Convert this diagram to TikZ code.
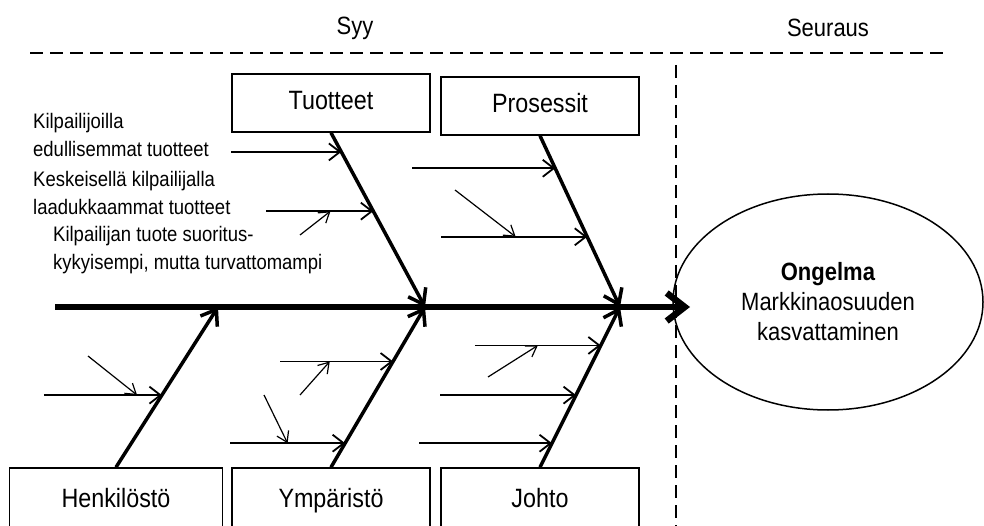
\documentclass[tikz,border=0pt]{standalone}
\usepackage{fontspec}
\setmainfont{Liberation Sans}[FakeStretch=0.88]
\usetikzlibrary{arrows.meta,calc,shapes.geometric}
\tikzset{
  causebox/.style={draw, line width=1.5pt, minimum width=198pt, minimum height=58pt,
    inner sep=0pt, text height=19pt, text depth=5pt, font=\fontsize{26.5}{30}\selectfont},
  effect/.style={ellipse, draw, line width=1.5pt, minimum width=310pt, minimum height=216pt,
    inner sep=0pt, align=center, font=\fontsize{25}{30}\selectfont},
  note/.style={anchor=west, align=left, inner sep=0pt, font=\fontsize{21}{28}\selectfont},
  head/.style={font=\fontsize{25}{28}\selectfont},
  spine/.style={-{Straight Barb[length=18pt,width=28pt]}, line width=6.5pt},
  bone/.style={-{Straight Barb[length=14pt,width=20pt]}, line width=3.5pt},
  twig/.style={-{Straight Barb[length=11pt,width=17pt]}, line width=1.8pt},
  subtwig/.style={-{Straight Barb[length=10pt,width=13pt]}, line width=1.2pt},
  divider/.style={line width=1.8pt, dash pattern=on 13pt off 7pt}
}
\begin{document}
\begin{tikzpicture}[x=1pt,y=-1pt]
  \useasboundingbox (0,0) rectangle (984,526);
  % headings and dividers
  \node[head] (syy) at (355,28) {Syy};
  \node[head] (seuraus) at (828,28) {Seuraus};
  \coordinate (hl) at (30,53);
  \coordinate (hr) at (945,53);
  \coordinate (vt) at (676,65);
  \coordinate (vb) at (676,530);
  \draw[divider] (hl) -- (hr);
  \draw[divider] (vt) -- (vb);
  % effect
  \node[effect] (ongelma) at (828,302) {\textbf{Ongelma}\\Markkinaosuuden\\kasvattaminen};
  % cause boxes
  \node[causebox] (tuotteet) at (331,103) {Tuotteet};
  \node[causebox] (prosessit) at (540,106) {Prosessit};
  \node[causebox, minimum width=213pt, minimum height=64pt] (henkilosto) at (116,500) {Henkilöstö};
  \node[causebox, minimum height=64pt] (ymparisto) at (331,500) {Ympäristö};
  \node[causebox, minimum height=64pt] (johto) at (540,500) {Johto};
  % spine and bones
  \coordinate (tail) at (55,307);
  \coordinate (head) at (690,307);
  \coordinate (j0) at (218,307);
  \coordinate (j1) at (425,307);
  \coordinate (j2) at (620,307);
  \draw[spine] (tail) -- (head);
  \draw[bone] (tuotteet.south) -- (j1);
  \draw[bone] (prosessit.south) -- (j2);
  \draw[bone] (henkilosto.north) -- (j0);
  \draw[bone] (ymparisto.north) -- (j1);
  \draw[bone] (johto.north) -- (j2);
  % twigs on the bones
  \foreach \nm/\bx/\jn/\t/\l in {a/tuotteet.south/j1/0.11/110, b/tuotteet.south/j1/0.45/107,
      c/prosessit.south/j2/0.19/143, d/prosessit.south/j2/0.59/146,
      e/henkilosto.north/j0/0.45/118,
      f/ymparisto.north/j1/0.66/113, g/ymparisto.north/j1/0.15/115,
      h/johto.north/j2/0.76/126, i/johto.north/j2/0.45/136, k/johto.north/j2/0.15/133}{
    \coordinate (\nm2) at ($(\bx)!\t!(\jn)$);
    \coordinate (\nm1) at ($(\nm2)+(-\l,0)$);
    \draw[twig] (\nm1) -- (\nm2);
  }
  % smaller causes
  \coordinate (sb) at (300,235);
  \coordinate (sd) at (455,190);
  \coordinate (se) at (88,356);
  \coordinate (sf) at (300,395);
  \coordinate (sg) at (264,395);
  \coordinate (sh) at (488,377);
  \draw[subtwig] (sb) -- ($(b1)!0.6!(b2)$);
  \draw[subtwig] (sd) -- ($(d1)!0.51!(d2)$);
  \draw[subtwig] (se) -- ($(e1)!0.79!(e2)$);
  \draw[subtwig] (sf) -- ($(f1)!0.44!(f2)$);
  \draw[subtwig] (sg) -- ($(g1)!0.5!(g2)$);
  \draw[subtwig] (sh) -- ($(h1)!0.5!(h2)$);
  % labels
  \node[note] (halvat) at (33,135) {Kilpailijoilla\\edullisemmat tuotteet};
  \node[note] (laatu) at (33,193) {Keskeisellä kilpailijalla\\laadukkaammat tuotteet};
  \node[note] (turva) at (53,250) {Kilpailijan tuote suoritus-\\kykyisempi, mutta turvattomampi};
\end{tikzpicture}
\end{document}
